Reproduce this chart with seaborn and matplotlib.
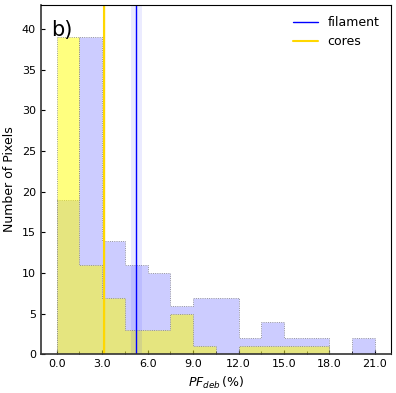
import numpy as np
import pandas as pd
import matplotlib
matplotlib.use('Agg')
import matplotlib.pyplot as plt
from matplotlib.ticker import MultipleLocator, FormatStrFormatter
import seaborn as sns

# bin edges (PF_deb in %) and counts
bin_edges = [0.0, 1.5, 3.0, 4.5, 6.0, 7.5, 9.0, 10.5, 12.0, 13.5, 15.0, 16.5, 18.0, 19.5, 21.0]
filament_counts = [19, 39, 14, 11, 10, 6, 7, 7, 2, 4, 2, 2, 0, 2]
cores_counts = [39, 11, 7, 3, 3, 5, 1, 0, 1, 1, 1, 1, 0, 0]

# medians and spread
filament_median = 5.26
filament_err = 0.36
cores_median = 3.15
cores_err = 0.08

centers = [(a + b) / 2 for a, b in zip(bin_edges[:-1], bin_edges[1:])]
df = pd.DataFrame({'PF': centers + centers,
                   'count': filament_counts + cores_counts,
                   'group': ['filament'] * len(centers) + ['cores'] * len(centers)})

sns.set_style('white')
plt.rcParams['font.family'] = ['DejaVu Sans']
plt.rcParams['text.color'] = 'black'
plt.rcParams['axes.labelcolor'] = 'black'
plt.rcParams['xtick.color'] = 'black'
plt.rcParams['ytick.color'] = 'black'

fig = plt.figure(figsize=(3.96, 3.93), dpi=100)
ax = fig.add_axes([0.103, 0.098, 0.884, 0.890])

sns.histplot(data=df[df.group == 'filament'], x='PF', weights='count', bins=bin_edges,
             element='step', color='blue', alpha=0.2, edgecolor='gray', linewidth=0.6,
             linestyle=':', ax=ax)
sns.histplot(data=df[df.group == 'cores'], x='PF', weights='count', bins=bin_edges,
             element='step', color='yellow', alpha=0.5, edgecolor='gray', linewidth=0.6,
             linestyle=':', ax=ax)

ax.axvspan(filament_median - filament_err, filament_median + filament_err, color='blue', alpha=0.08, lw=0)
ax.axvspan(cores_median - cores_err, cores_median + cores_err, color='gold', alpha=0.15, lw=0)
ax.axvline(filament_median, color='blue', lw=1.0, label='filament')
ax.axvline(cores_median, color='gold', lw=1.5, label='cores')

ax.set_xlim(-1.05, 22.05)
ax.set_ylim(0, 43)
ax.xaxis.set_major_locator(MultipleLocator(3))
ax.xaxis.set_minor_locator(MultipleLocator(1.5))
ax.xaxis.set_major_formatter(FormatStrFormatter('%.1f'))
ax.yaxis.set_major_locator(MultipleLocator(5))
ax.tick_params(direction='in', length=3, labelsize=8, bottom=True, left=True)
ax.tick_params(which='minor', direction='in', length=2, bottom=True)

ax.set_xlabel(r'$PF_{deb}\,$(%)', fontsize=9)
ax.set_ylabel('Number of Pixels', fontsize=9)
ax.text(0.03, 0.955, 'b)', transform=ax.transAxes, fontsize=15, va='top')
ax.legend(loc='upper right', frameon=False, fontsize=9)

for side in ['top', 'right']:
    ax.spines[side].set_linewidth(0.8)
    ax.spines[side].set_color('black')
for side in ['bottom', 'left']:
    ax.spines[side].set_linewidth(1.2)
    ax.spines[side].set_color('#333333')

fig.savefig('out.png', dpi=100)
